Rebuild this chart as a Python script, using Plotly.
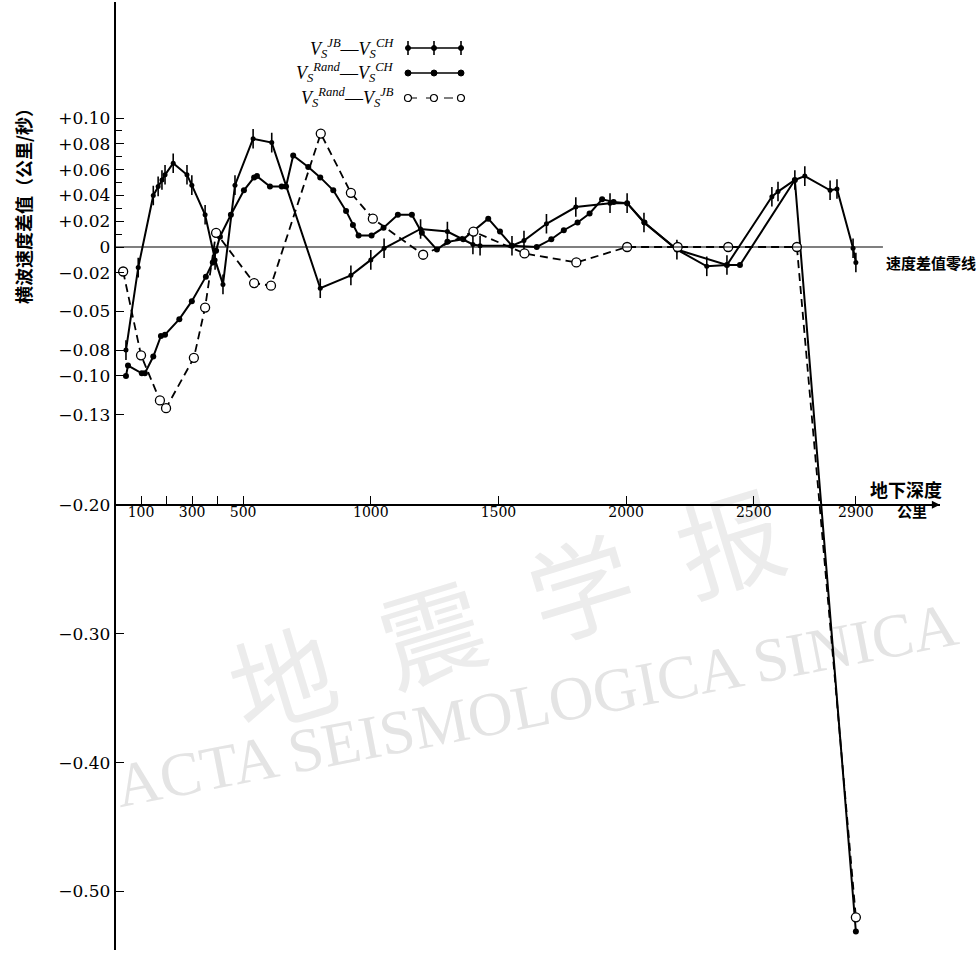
import plotly.graph_objects as go

# ---------------- data (depth in km, S-wave velocity difference in km/s) ----------------
depth_jb_ch = [41, 89, 148, 167, 182, 194, 226, 280, 299, 351, 390, 421, 468, 539, 612, 802,
               922, 1000, 1052, 1195, 1300, 1400, 1428, 1553, 1600, 1688, 1803, 1937, 2004,
               2070, 2199, 2316, 2395, 2571, 2595, 2661, 2700, 2799, 2826, 2889, 2900]
diff_jb_ch = [-0.080, -0.016, 0.040, 0.047, 0.052, 0.056, 0.065, 0.056, 0.048, 0.025, -0.010,
              -0.029, 0.048, 0.084, 0.081, -0.032, -0.022, -0.010, -0.001, 0.014, 0.012, 0.002,
              0.001, 0.001, 0.005, 0.018, 0.031, 0.034, 0.034, 0.019, -0.002, -0.015, -0.014,
              0.039, 0.043, 0.052, 0.055, 0.044, 0.045, -0.001, -0.012]

depth_rand_ch = [41, 49, 103, 115, 148, 178, 194, 250, 299, 354, 381, 394, 409, 452, 503, 543,
                 554, 605, 651, 668, 696, 755, 802, 853, 903, 930, 952, 1003, 1050, 1106, 1161,
                 1200, 1259, 1300, 1362, 1460, 1506, 1553, 1650, 1707, 1756, 1810, 1857, 1906,
                 1951, 2004, 2072, 2199, 2395, 2446, 2661, 2900]
diff_rand_ch = [-0.100, -0.092, -0.098, -0.098, -0.085, -0.069, -0.068, -0.056, -0.042, -0.023,
                -0.012, -0.003, 0.008, 0.025, 0.044, 0.054, 0.055, 0.047, 0.047, 0.047, 0.071,
                0.062, 0.054, 0.044, 0.028, 0.017, 0.009, 0.009, 0.015, 0.025, 0.025, 0.011,
                -0.002, 0.004, 0.006, 0.022, 0.012, 0.001, 0.000, 0.006, 0.013, 0.019, 0.026,
                0.037, 0.035, 0.034, 0.019, -0.002, -0.014, -0.014, 0.052, -0.531]

depth_rand_jb = [30, 100, 174, 198, 307, 351, 394, 543, 609, 804, 922, 1008, 1205, 1402, 1602,
                 1805, 2004, 2202, 2400, 2669, 2900]
diff_rand_jb = [-0.019, -0.084, -0.119, -0.125, -0.086, -0.047, 0.011, -0.028, -0.030, 0.088,
                0.042, 0.022, -0.006, 0.012, -0.005, -0.012, 0.000, 0.000, 0.000, 0.000, -0.520]

y_tickvals = [0.10, 0.08, 0.06, 0.04, 0.02, 0.0, -0.02, -0.05, -0.08, -0.10, -0.13,
              -0.20, -0.30, -0.40, -0.50]
y_ticktext = ["+0.10", "+0.08", "+0.06", "+0.04", "+0.02", "0", "−0.02", "−0.05", "−0.08",
              "−0.10", "−0.13", "−0.20", "−0.30", "−0.40", "−0.50"]
y_minor_vals = [0.09, 0.07, 0.05, 0.03, 0.01]
x_tickvals = [100, 200, 300, 400, 500, 1000, 1500, 2000, 2500, 2900]
x_ticktext = ["100", "", "300", "", "500", "1000", "1500", "2000", "2500", "2900"]

# ---------------- layout geometry ----------------
W, H = 980, 955
X0_PX, PX_PER_KM = 115.5, 0.2553
Y0_PX, PX_PER_UNIT = 247.0, 1289.0
X_RANGE = [0, 3229]
Y_RANGE = [-0.545, 0.19]
X_AXIS_AT = -0.20
ZERO_LINE_END = 3006

x_dom = [X0_PX / W, (X0_PX + X_RANGE[1] * PX_PER_KM) / W]
y_top_px = Y0_PX - Y_RANGE[1] * PX_PER_UNIT
y_bot_px = Y0_PX - Y_RANGE[0] * PX_PER_UNIT
y_dom = [1 - y_bot_px / H, 1 - y_top_px / H]
x_axis_pos = y_dom[0] + (X_AXIS_AT - Y_RANGE[0]) / (Y_RANGE[1] - Y_RANGE[0]) * (y_dom[1] - y_dom[0])


def px(x):
    return x / W


def py(y):
    return 1 - y / H


SERIF = "DejaVu Serif"
CJK = "Noto Sans CJK SC"

fig = go.Figure()

# V_JB - V_CH : solid with vertical tick marks
fig.add_trace(go.Scatter(x=depth_jb_ch, y=diff_jb_ch, mode="lines+markers",
                         line=dict(color="black", width=2),
                         marker=dict(symbol="line-ns", size=14, line=dict(color="black", width=1.6)),
                         showlegend=False))
fig.add_trace(go.Scatter(x=depth_jb_ch, y=diff_jb_ch, mode="markers",
                         marker=dict(symbol="circle", size=5, color="black"), showlegend=False))
# V_Rand - V_CH : solid with dots
fig.add_trace(go.Scatter(x=depth_rand_ch, y=diff_rand_ch, mode="lines+markers",
                         line=dict(color="black", width=2),
                         marker=dict(symbol="circle", size=6, color="black"), showlegend=False))
# V_Rand - V_JB : dashed with open circles
fig.add_trace(go.Scatter(x=depth_rand_jb, y=diff_rand_jb, mode="lines+markers",
                         line=dict(color="black", width=1.8, dash="8px,5px"),
                         marker=dict(symbol="circle", size=9, color="white",
                                     line=dict(color="black", width=1.3)),
                         showlegend=False))

shapes = []

# watermark (below the data)
shapes.append(dict(type="rect", xref="paper", yref="paper", layer="below",
                   x0=px(535 - 40), x1=px(535 + 40), y0=py(698 + 20), y1=py(698 - 20),
                   line=dict(width=0), fillcolor="rgba(0,0,0,0)",
                   label=dict(text="ACTA SEISMOLOGICA SINICA", textangle=-11,
                              textposition="middle center",
                              font=dict(family="Liberation Serif", size=62, color="#e4e4e4"))))
shapes.append(dict(type="rect", xref="paper", yref="paper", layer="below",
                   x0=px(510 - 40), x1=px(510 + 40), y0=py(622 + 20), y1=py(622 - 20),
                   line=dict(width=0), fillcolor="rgba(0,0,0,0)",
                   label=dict(text="地\u2002震\u2002学\u2002报", textangle=-17,
                              textposition="middle center",
                              font=dict(family=CJK, size=104, color="#ececec"))))

# zero line
shapes.append(dict(type="line", xref="x", yref="y", x0=0, x1=ZERO_LINE_END, y0=0, y1=0,
                   line=dict(color="black", width=1.2)))

# manual legend (text left, sample right)
legend_rows = [48, 73, 98]
sample_x = [408, 434, 461]
for i, row in enumerate(legend_rows):
    dash = "dash" if i == 2 else "solid"
    shapes.append(dict(type="line", xref="paper", yref="paper", x0=px(sample_x[0]), x1=px(sample_x[-1]),
                       y0=py(row), y1=py(row), line=dict(color="black", width=1.6 if i < 2 else 1.2, dash=dash)))
    for sx in sample_x:
        if i == 0:
            shapes.append(dict(type="line", xref="paper", yref="paper", x0=px(sx), x1=px(sx),
                               y0=py(row - 7), y1=py(row + 7), line=dict(color="black", width=1.6)))
            r = 2.5
            shapes.append(dict(type="circle", xref="paper", yref="paper", x0=px(sx - r), x1=px(sx + r),
                               y0=py(row + r), y1=py(row - r), fillcolor="black",
                               line=dict(color="black", width=1)))
        elif i == 1:
            r = 3
            shapes.append(dict(type="circle", xref="paper", yref="paper", x0=px(sx - r), x1=px(sx + r),
                               y0=py(row + r), y1=py(row - r), fillcolor="black",
                               line=dict(color="black", width=1)))
        else:
            r = 3.5
            shapes.append(dict(type="circle", xref="paper", yref="paper", x0=px(sx - r), x1=px(sx + r),
                               y0=py(row + r), y1=py(row - r), fillcolor="white",
                               line=dict(color="black", width=1.2)))

legend_texts = [
    "<i>V</i><sub><i>S</i></sub><sup><i>JB</i></sup>—<i>V</i><sub><i>S</i></sub><sup><i>CH</i></sup>",
    "<i>V</i><sub><i>S</i></sub><sup><i>Rand</i></sup>—<i>V</i><sub><i>S</i></sub><sup><i>CH</i></sup>",
    "<i>V</i><sub><i>S</i></sub><sup><i>Rand</i></sup>—<i>V</i><sub><i>S</i></sub><sup><i>JB</i></sup>",
]

annotations = []
for row, txt in zip(legend_rows, legend_texts):
    annotations.append(dict(xref="paper", yref="paper", x=px(396), y=py(row), xanchor="right",
                            yanchor="middle", text=txt, showarrow=False,
                            font=dict(family="Liberation Serif", size=18, color="black")))

# axis titles / labels
annotations.append(dict(xref="paper", yref="paper", x=px(23), y=py(202), xanchor="center",
                        yanchor="middle", text="横波速度差值（公里/秒）",
                        textangle=-90, showarrow=False,
                        font=dict(family=CJK, size=18, color="black", weight="bold")))
annotations.append(dict(xref="paper", yref="paper", x=px(884), y=py(262), xanchor="left",
                        yanchor="middle", text="速度差值零线", showarrow=False,
                        font=dict(family=CJK, size=15, color="black", weight="bold")))
annotations.append(dict(xref="paper", yref="paper", x=px(868), y=py(489), xanchor="left",
                        yanchor="middle", text="地下深度", showarrow=False,
                        font=dict(family=CJK, size=18, color="black", weight="bold")))
annotations.append(dict(xref="paper", yref="paper", x=px(895), y=py(510), xanchor="left",
                        yanchor="middle", text="公里", showarrow=False,
                        font=dict(family=CJK, size=15, color="black", weight="bold")))
# arrow head at the end of the depth axis
annotations.append(dict(xref="x", yref="y", x=X_RANGE[1], y=X_AXIS_AT, ax=-16, ay=0, text="",
                        showarrow=True, arrowhead=2, arrowsize=1, arrowwidth=1.6, arrowcolor="black"))

fig.update_layout(
    width=W, height=H,
    margin=dict(l=0, r=0, t=0, b=0),
    paper_bgcolor="white", plot_bgcolor="rgba(0,0,0,0)",
    showlegend=False,
    shapes=shapes,
    annotations=annotations,
    xaxis=dict(domain=x_dom, range=X_RANGE, anchor="free", position=x_axis_pos,
               showline=True, linecolor="black", linewidth=1.6,
               ticks="inside", ticklen=8, tickwidth=1.3, tickcolor="black",
               tickmode="array", tickvals=x_tickvals, ticktext=x_ticktext,
               ticklabelstandoff=-5,
               tickfont=dict(family=SERIF, size=14, color="black"),
               showgrid=False, zeroline=False),
    yaxis=dict(domain=y_dom, range=Y_RANGE, anchor="x",
               showline=True, linecolor="black", linewidth=1.6,
               ticks="inside", ticklen=9, tickwidth=1.3, tickcolor="black",
               tickmode="array", tickvals=y_tickvals, ticktext=y_ticktext,
               minor=dict(tickmode="array", tickvals=y_minor_vals, ticks="inside",
                          ticklen=7, tickwidth=1.2, tickcolor="black", showgrid=False),
               tickfont=dict(family=SERIF, size=17, color="black"),
               showgrid=False, zeroline=False),
)

fig.write_html("out.html", config={"displayModeBar": False},
               post_script="document.body.style.margin='0';")
